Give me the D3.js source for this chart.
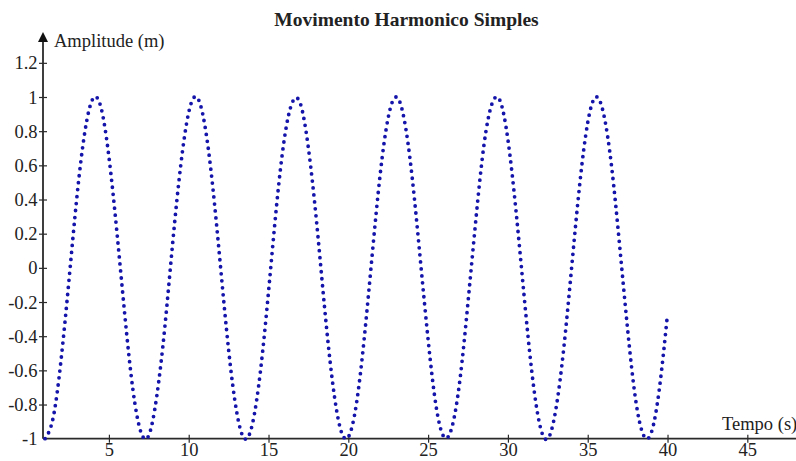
<!DOCTYPE html>
<html>
<head>
<meta charset="utf-8">
<script src="https://cdn.jsdelivr.net/npm/d3@7"></script>
<style>
  html, body { margin: 0; padding: 0; background: #fff; overflow: hidden; }
  text { font-family: "Liberation Serif", "Times New Roman", serif; fill: #222; }
</style>
</head>
<body>
<script>
'use strict';

// time samples (s) and amplitude
const timeValues = [
  1, 1.5, 2, 2.5, 3, 3.5, 4, 4.5, 5, 5.5, 6, 6.5, 7, 7.5, 8, 8.5, 9, 9.5, 10, 10.5,
  11, 11.5, 12, 12.5, 13, 13.5, 14, 14.5, 15, 15.5, 16, 16.5, 17, 17.5, 18, 18.5, 19, 19.5, 20, 20.5,
  21, 21.5, 22, 22.5, 23, 23.5, 24, 24.5, 25, 25.5, 26, 26.5, 27, 27.5, 28, 28.5, 29, 29.5, 30, 30.5,
  31, 31.5, 32, 32.5, 33, 33.5, 34, 34.5, 35, 35.5, 36, 36.5, 37, 37.5, 38, 38.5, 39, 39.5, 40
];
const amplitudeValues = [
  -1.00, -0.88, -0.54, -0.07, 0.42, 0.80, 0.99, 0.94, 0.65, 0.21, -0.28, -0.71, -0.96, -0.98, -0.75, -0.35, 0.15, 0.60, 0.91, 1.00,
  0.84, 0.48, 0.00, -0.48, -0.84, -1.00, -0.91, -0.60, -0.14, 0.36, 0.76, 0.97, 0.96, 0.70, 0.28, -0.22, -0.66, -0.94, -0.99, -0.80,
  -0.41, 0.08, 0.55, 0.88, 1.00, 0.87, 0.53, 0.06, -0.42, -0.81, -0.99, -0.93, -0.65, -0.20, 0.29, 0.72, 0.96, 0.98, 0.75, 0.34,
  -0.15, -0.61, -0.92, -1.00, -0.83, -0.47, 0.01, 0.49, 0.85, 1.00, 0.90, 0.59, 0.13, -0.36, -0.77, -0.98, -0.96, -0.70, -0.27
];
const xTicks = [5, 10, 15, 20, 25, 30, 35, 40, 45];
const yTicks = [-1, -0.8, -0.6, -0.4, -0.2, 0, 0.2, 0.4, 0.6, 0.8, 1, 1.2];
const yTickLabels = ['-1', '-0.8', '-0.6', '-0.4', '-0.2', '0', '0.2', '0.4', '0.6', '0.8', '1', '1.2'];

const chartTitle = 'Movimento Harmonico Simples';
const xLabel = 'Tempo (s)';
const yLabel = 'Amplitude (m)';

const width = 796, height = 461;
const axisColor = '#2a2a2a';

const svg = d3.select('body')
  .append('svg')
  .attr('width', width)
  .attr('height', height);

// scales
const xScale = d3.scaleLinear()
  .domain([0.87, 48.05])
  .range([43, 796]);

const yScale = d3.scaleLinear()
  .domain([-1, 1])
  .range([438.7, 97]);

// arrow head for the y axis (drawn along the path direction)
svg.append('defs').append('marker')
  .attr('id', 'arrow')
  .attr('viewBox', '0 0 10 10')
  .attr('refX', 0)
  .attr('refY', 5)
  .attr('markerUnits', 'userSpaceOnUse')
  .attr('markerWidth', 10)
  .attr('markerHeight', 10)
  .attr('orient', 'auto')
  .append('path')
  .attr('d', 'M0,0 L10,5 L0,10 Z')
  .attr('fill', '#111');

// x axis
const xAxis = d3.axisBottom(xScale)
  .tickValues(xTicks)
  .tickSize(4)
  .tickFormat(d => String(d));

const gx = svg.append('g')
  .attr('transform', 'translate(0,' + yScale(-1) + ')')
  .call(xAxis);
gx.select('.domain').remove();
gx.selectAll('.tick line')
  .attr('y1', -4)
  .attr('y2', 4)
  .attr('stroke', axisColor)
  .attr('stroke-width', 1.2);
gx.selectAll('.tick text')
  .attr('y', 17.5)
  .attr('dy', 0)
  .style('font-family', '"Liberation Serif", serif')
  .style('font-size', '18.5px')
  .attr('fill', '#222');

svg.append('line')
  .attr('x1', xScale.range()[0])
  .attr('x2', width)
  .attr('y1', yScale(-1))
  .attr('y2', yScale(-1))
  .attr('stroke', axisColor)
  .attr('stroke-width', 1.8);

// y axis
const yAxis = d3.axisLeft(yScale)
  .tickValues(yTicks.filter(d => d !== -1))
  .tickSize(4)
  .tickFormat(d => yTickLabels[yTicks.indexOf(d)]);

const gy = svg.append('g')
  .attr('transform', 'translate(' + xScale.range()[0] + ',0)')
  .call(yAxis);
gy.select('.domain').remove();
gy.selectAll('.tick line')
  .attr('x1', -4)
  .attr('x2', 4)
  .attr('stroke', axisColor)
  .attr('stroke-width', 1.2);
gy.selectAll('.tick text')
  .attr('x', -5.5)
  .attr('dy', '0.33em')
  .style('font-family', '"Liberation Serif", serif')
  .style('font-size', '18.5px')
  .attr('fill', '#222');

// "-1" label sits at the corner without a tick
svg.append('text')
  .attr('x', xScale.range()[0] - 5.5)
  .attr('y', yScale(-1))
  .attr('dy', '0.33em')
  .attr('text-anchor', 'end')
  .style('font-size', '18.5px')
  .text(yTickLabels[0]);

svg.append('line')
  .attr('x1', xScale.range()[0])
  .attr('x2', xScale.range()[0])
  .attr('y1', yScale(-1))
  .attr('y2', 42)
  .attr('stroke', axisColor)
  .attr('stroke-width', 1.8)
  .attr('marker-end', 'url(#arrow)');

// dotted curve
const points = timeValues.map((t, i) => ({ t: t, a: amplitudeValues[i] }));

const line = d3.line()
  .x(d => xScale(d.t))
  .y(d => yScale(d.a))
  .curve(d3.curveNatural);

svg.append('path')
  .datum(points)
  .attr('d', line)
  .attr('fill', 'none')
  .attr('stroke', '#1414aa')
  .attr('stroke-width', 3.8)
  .attr('stroke-linecap', 'round')
  .attr('stroke-dasharray', '0 7');

// labels
svg.append('text')
  .attr('x', 406.5)
  .attr('y', 26)
  .attr('text-anchor', 'middle')
  .style('font-size', '19.5px')
  .style('font-weight', 'bold')
  .attr('fill', '#111')
  .text(chartTitle);

svg.append('text')
  .attr('x', 54)
  .attr('y', 47)
  .style('font-size', '18.5px')
  .text(yLabel);

svg.append('text')
  .attr('x', 722)
  .attr('y', 430)
  .style('font-size', '18.5px')
  .text(xLabel);
</script>
</body>
</html>
